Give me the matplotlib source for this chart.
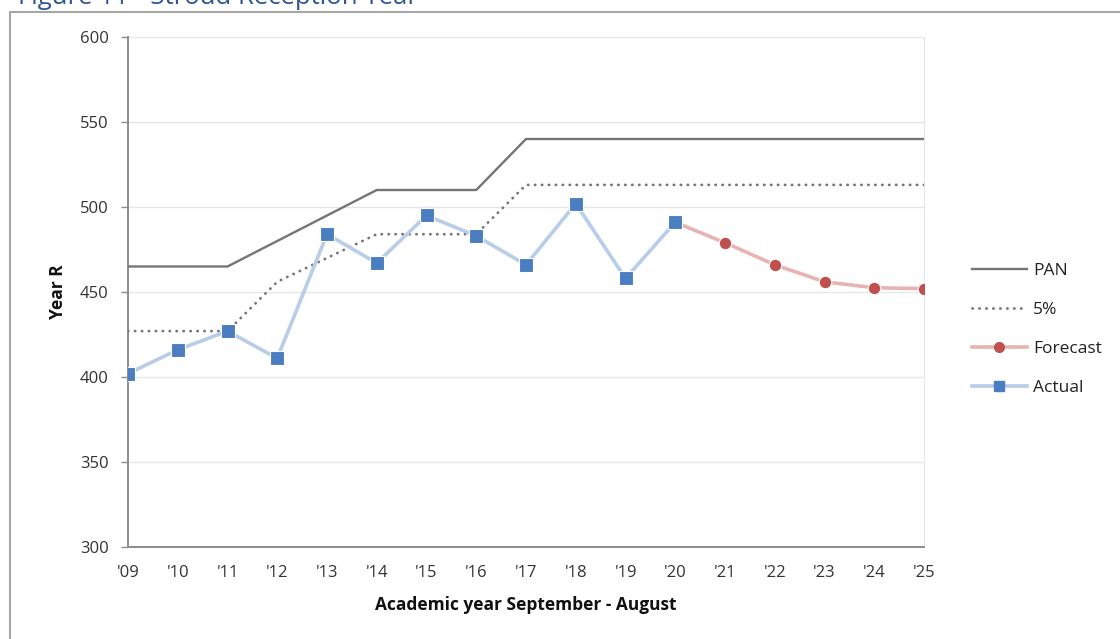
import matplotlib
matplotlib.use("Agg")
import matplotlib.pyplot as plt
from matplotlib.patches import Rectangle
from matplotlib.lines import Line2D

# Reception year places, academic years 2009/10 to 2025/26
years = list(range(2009, 2026))
year_labels = ["'09", "'10", "'11", "'12", "'13", "'14", "'15", "'16", "'17",
               "'18", "'19", "'20", "'21", "'22", "'23", "'24", "'25"]
pan = [465, 465, 465, 480, 495, 510, 510, 510, 540, 540, 540, 540, 540, 540, 540, 540, 540]
pan_5pct = [427, 427, 427, 456, 470, 484, 484, 484, 513, 513, 513, 513, 513, 513, 513, 513, 513]
actual_years = years[:12]
actual = [402, 416, 427, 411, 484, 467, 495, 483, 466, 502, 458, 491]
forecast_years = years[11:]
forecast = [491, 479, 466, 456, 452.5, 452]

plt.rcParams['font.family'] = ['Open Sans', 'DejaVu Sans']

fig = plt.figure(figsize=(11.2, 6.39), dpi=100)
ax = fig.add_axes([128 / 1120, 1 - 547 / 639, (924 - 128) / 1120, (547 - 37) / 639])

grey = '#757575'
ax.plot(years, pan, color=grey, lw=1.7, solid_capstyle='butt', label='PAN', zorder=3)
ax.plot(years, pan_5pct, color=grey, lw=2.0, linestyle=(0, (0.1, 2.4)),
        dash_capstyle='round', label='5%', zorder=3)
ax.plot(forecast_years[1:], forecast[1:], color='#C0504D', lw=0, marker='o',
        markersize=9, markeredgecolor='white', markeredgewidth=0.8, zorder=5)
ax.plot(forecast_years, forecast, color='#E8B4B3', lw=2.6, zorder=4)
ax.plot(actual_years, actual, color='#B7CDE8', lw=2.6, marker='s', markersize=9.5,
        markerfacecolor='#4A7EC1', markeredgecolor='white', markeredgewidth=0.8, zorder=5)

ax.set_xlim(2009, 2025)
ax.set_ylim(300, 600)
ax.set_yticks(range(300, 601, 50))
ax.set_xticks(years)
ax.set_xticklabels(year_labels)
ax.yaxis.grid(True, color='#E6E6E6', lw=1)
ax.set_axisbelow(True)
for side in ('left', 'bottom'):
    ax.spines[side].set_color('#8C8C8C')
    ax.spines[side].set_linewidth(1.4)
ax.spines['top'].set_visible(False)
ax.spines['right'].set_color('#E6E6E6')
ax.tick_params(axis='y', length=5, width=1, color='#8C8C8C', labelsize=12,
               labelcolor='#333333', pad=9)
ax.tick_params(axis='x', length=0, labelsize=12, labelcolor='#333333', pad=13)
ax.set_ylabel('Year R', fontsize=12.5, fontweight='bold', labelpad=9, color='#111111')
ax.set_xlabel('Academic year September - August', fontsize=12.5, fontweight='bold',
              labelpad=11, color='#111111')

handles = [
    Line2D([], [], color=grey, lw=1.7),
    Line2D([], [], color=grey, lw=2.0, linestyle=(0, (0.1, 2.4)), dash_capstyle='round'),
    Line2D([], [], color='#E8B4B3', lw=2.6, marker='o', markersize=7,
           markerfacecolor='#C0504D', markeredgecolor='#C0504D'),
    Line2D([], [], color='#B7CDE8', lw=2.6, marker='s', markersize=7,
           markerfacecolor='#4A7EC1', markeredgecolor='#4A7EC1'),
]
fig.legend(handles, ['PAN', '5%', 'Forecast', 'Actual'], loc='upper left',
           bbox_to_anchor=(956 / 1120, 1 - 247 / 639), frameon=False, fontsize=12.5,
           handlelength=3.2, handletextpad=0.35, labelspacing=1.32, labelcolor='#222222')

# outer frame and caption
fig.patches.append(Rectangle((10 / 1120, -0.05), 1.2, 1 - 12 / 639 + 0.05,
                             transform=fig.transFigure, fill=False,
                             edgecolor='#A6A6A6', lw=1.5))
fig.text(18 / 1120, 1 - 4 / 639, 'Figure 11 - Stroud Reception Year', fontsize=18.5,
         color='#2F5597', va='baseline', ha='left')

fig.savefig('out.png', dpi=100)
